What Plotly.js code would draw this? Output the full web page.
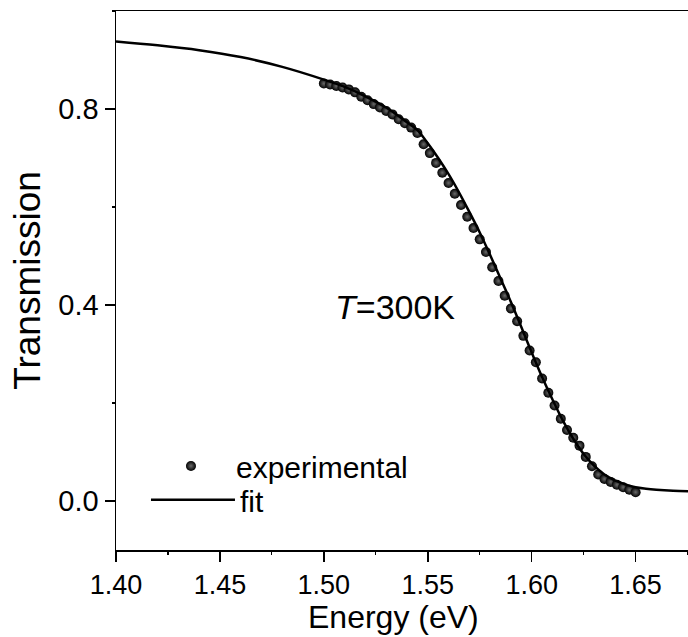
<!DOCTYPE html>
<html>
<head>
<meta charset="utf-8">
<script src="https://cdn.plot.ly/plotly-3.0.1.min.js"></script>
<style>html,body{margin:0;padding:0;background:#fff;}#chart{width:688px;height:637px;}</style>
</head>
<body>
<div id="chart"></div>
<script>
// Experimental data
const expEnergy = [1.500,1.503,1.506,1.509,1.512,1.515,1.518,1.521,1.524,1.527,1.530,1.533,1.536,1.539,1.542,1.545,1.548,1.551,1.554,1.557,1.560,1.563,1.566,1.569,1.572,1.575,1.578,1.581,1.584,1.587,1.590,1.593,1.596,1.599,1.602,1.605,1.608,1.611,1.614,1.617,1.620,1.623,1.626,1.629,1.632,1.635,1.638,1.641,1.644,1.647,1.650];
const expTrans = [0.852,0.850,0.847,0.844,0.840,0.834,0.825,0.818,0.810,0.803,0.796,0.789,0.779,0.771,0.762,0.751,0.728,0.710,0.690,0.670,0.649,0.627,0.604,0.580,0.557,0.534,0.508,0.477,0.449,0.419,0.393,0.367,0.337,0.307,0.283,0.250,0.221,0.195,0.168,0.145,0.129,0.113,0.090,0.071,0.054,0.045,0.039,0.033,0.028,0.023,0.018];
// Fit curve
const fitEnergy = [1.400,1.420,1.440,1.460,1.480,1.500,1.510,1.520,1.530,1.540,1.545,1.550,1.555,1.560,1.565,1.570,1.575,1.580,1.585,1.590,1.595,1.600,1.605,1.610,1.615,1.620,1.625,1.630,1.635,1.640,1.645,1.650,1.655,1.660,1.668,1.676];
const fitTrans = [0.938,0.930,0.920,0.906,0.886,0.860,0.845,0.826,0.803,0.773,0.757,0.730,0.700,0.667,0.630,0.590,0.548,0.502,0.454,0.406,0.355,0.303,0.253,0.207,0.164,0.127,0.096,0.072,0.054,0.042,0.034,0.028,0.025,0.023,0.021,0.020];
const xTitle = 'Energy (eV)';
const yTitle = 'Transmission';
const labelText = '<i>T</i>=300K';

const FONT = 'Liberation Sans, Arial, sans-serif';
const traces = [
  {x: expEnergy, y: expTrans, type: 'scatter', mode: 'markers', name: 'experimental', legend: 'legend',
   marker: {size: 10, color: '#000', gradient: {type: 'radial', color: '#6a6a6a'}, line: {width: 0}}},
  {x: fitEnergy, y: fitTrans, type: 'scatter', mode: 'lines', name: 'fit', legend: 'legend2',
   line: {color: '#000', width: 2.5, shape: 'spline'}}
];
const layout = {
  width: 688, height: 637,
  margin: {l: 116, r: 0, t: 11, b: 87},
  paper_bgcolor: '#fff', plot_bgcolor: '#fff',
  font: {family: FONT, color: '#000'},
  showlegend: true,
  legend: {x: 0.0524, y: 0.156, xanchor: 'left', yanchor: 'middle', bgcolor: 'rgba(0,0,0,0)', font: {size: 30, family: FONT}, itemwidth: 80},
  legend2: {x: 0.0524, y: 0.093, xanchor: 'left', yanchor: 'middle', bgcolor: 'rgba(0,0,0,0)', font: {size: 30, family: FONT}, itemwidth: 84},
  xaxis: {range: [1.40, 1.6752], dtick: 0.05, tick0: 1.40, tickformat: '.2f', showgrid: false, zeroline: false,
    showline: true, linecolor: '#000', linewidth: 1.5, mirror: true, ticks: 'outside', ticklen: 10, tickwidth: 1.5, tickcolor: '#000',
    tickfont: {size: 27, family: FONT},
    minor: {dtick: 0.025, tick0: 1.40, ticks: 'outside', ticklen: 3, tickwidth: 1.2, tickcolor: '#000'}},
  yaxis: {range: [-0.1, 1.0], dtick: 0.4, tick0: 0, tickformat: '.1f', showgrid: false, zeroline: false,
    showline: true, linecolor: '#000', linewidth: 1.5, mirror: false, ticks: 'outside', ticklen: 10, tickwidth: 1.5, tickcolor: '#000',
    tickfont: {size: 29, family: FONT}, title: {text: yTitle, font: {size: 37, family: FONT}, standoff: 6},
    minor: {dtick: 0.2, tick0: 0, ticks: 'outside', ticklen: 3, tickwidth: 1.2, tickcolor: '#000'}},
  annotations: [
    {x: 1.5342, y: 0.395, xref: 'x', yref: 'y', text: labelText, showarrow: false, font: {size: 34, family: FONT, color: '#000'}},
    {x: 0.486, y: 0, xref: 'paper', yref: 'paper', xanchor: 'center', yanchor: 'top', yshift: -48, borderpad: 0, text: xTitle, showarrow: false, font: {size: 32, family: FONT, color: '#000'}}
  ]
};
Plotly.newPlot('chart', traces, layout, {displayModeBar: false, staticPlot: true});
</script>
</body>
</html>
